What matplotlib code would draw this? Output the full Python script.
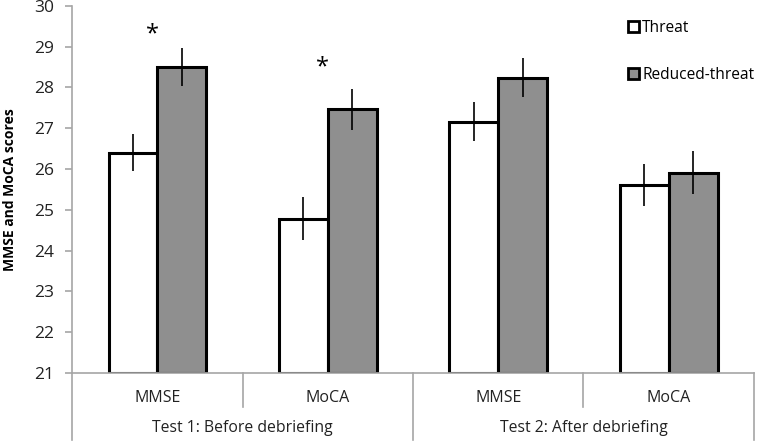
import numpy as np
import matplotlib.pyplot as plt
from matplotlib.patches import Patch
from matplotlib.transforms import blended_transform_factory

plt.rcParams['font.family'] = ['Open Sans', 'DejaVu Sans']

# data
categories = ["MMSE", "MoCA", "MMSE", "MoCA"]
groups = ["Test 1: Before debriefing", "Test 2: After debriefing"]
threat = [26.4, 24.78, 27.16, 25.61]
threat_err = [0.45, 0.53, 0.47, 0.52]
reduced = [28.5, 27.46, 28.24, 25.91]
reduced_err = [0.47, 0.5, 0.47, 0.52]
star_cats = [0, 1]
star_y = [29.3, 28.5]

fig = plt.figure(figsize=(7.6, 4.45), dpi=100)
ax = fig.add_axes([0.095, 0.162, 0.897, 0.825])

x = np.arange(len(categories)) + 0.5
w = 0.287
ax.bar(x - w / 2, np.array(threat) - 21, w, bottom=21, color="white",
       edgecolor="black", linewidth=2.2, zorder=2)
ax.bar(x + w / 2, np.array(reduced) - 21, w, bottom=21, color="#8f8f8f",
       edgecolor="black", linewidth=2.2, zorder=2)
ax.errorbar(x - w / 2, threat, yerr=threat_err, fmt="none", ecolor="black",
            elinewidth=1.2, capsize=0, zorder=3)
ax.errorbar(x + w / 2, reduced, yerr=reduced_err, fmt="none", ecolor="black",
            elinewidth=1.2, capsize=0, zorder=3)

for c, sy in zip(star_cats, star_y):
    ax.text(x[c] - 0.03, sy, "*", ha="center", va="center", fontsize=17)

ax.set_xlim(0, 4)
ax.set_ylim(21, 30)
ax.set_yticks(range(21, 31))
ax.set_xticks([])
for s in ["top", "right"]:
    ax.spines[s].set_visible(False)
for s in ["left", "bottom"]:
    ax.spines[s].set_color("#a6a6a6")
    ax.spines[s].set_linewidth(1.2)
ax.tick_params(axis="y", colors="#a6a6a6", length=5, width=1.2, pad=8,
               labelcolor="#222222", labelsize=12.5)
ax.set_ylabel("MMSE and MoCA scores", fontweight="bold", fontsize=10,
              labelpad=12)

# category axis with two label rows
tr = blended_transform_factory(ax.transData, ax.transAxes)
for i in range(5):
    bottom = -0.183 if i % 2 == 0 else -0.093
    ax.plot([i, i], [0, bottom], transform=tr, color="#a6a6a6", lw=1.2,
            clip_on=False)
for xi, c in zip(x, categories):
    ax.text(xi, -0.067, c, transform=tr, ha="center", va="center",
            fontsize=11.5, color="#222222")
for gi, g in enumerate(groups):
    ax.text(2 * gi + 1, -0.15, g, transform=tr, ha="center", va="center",
            fontsize=11.3, color="#222222")

handles = [Patch(facecolor="white", edgecolor="black", linewidth=2),
           Patch(facecolor="#8f8f8f", edgecolor="black", linewidth=2)]
ax.legend(handles, ["Threat", "Reduced-threat"], loc="upper left",
          bbox_to_anchor=(0.795, 1.0), frameon=False, fontsize=11.2,
          handlelength=0.7, handleheight=0.7, handletextpad=0.2,
          labelspacing=2.0)

fig.savefig("out.png", dpi=100)
